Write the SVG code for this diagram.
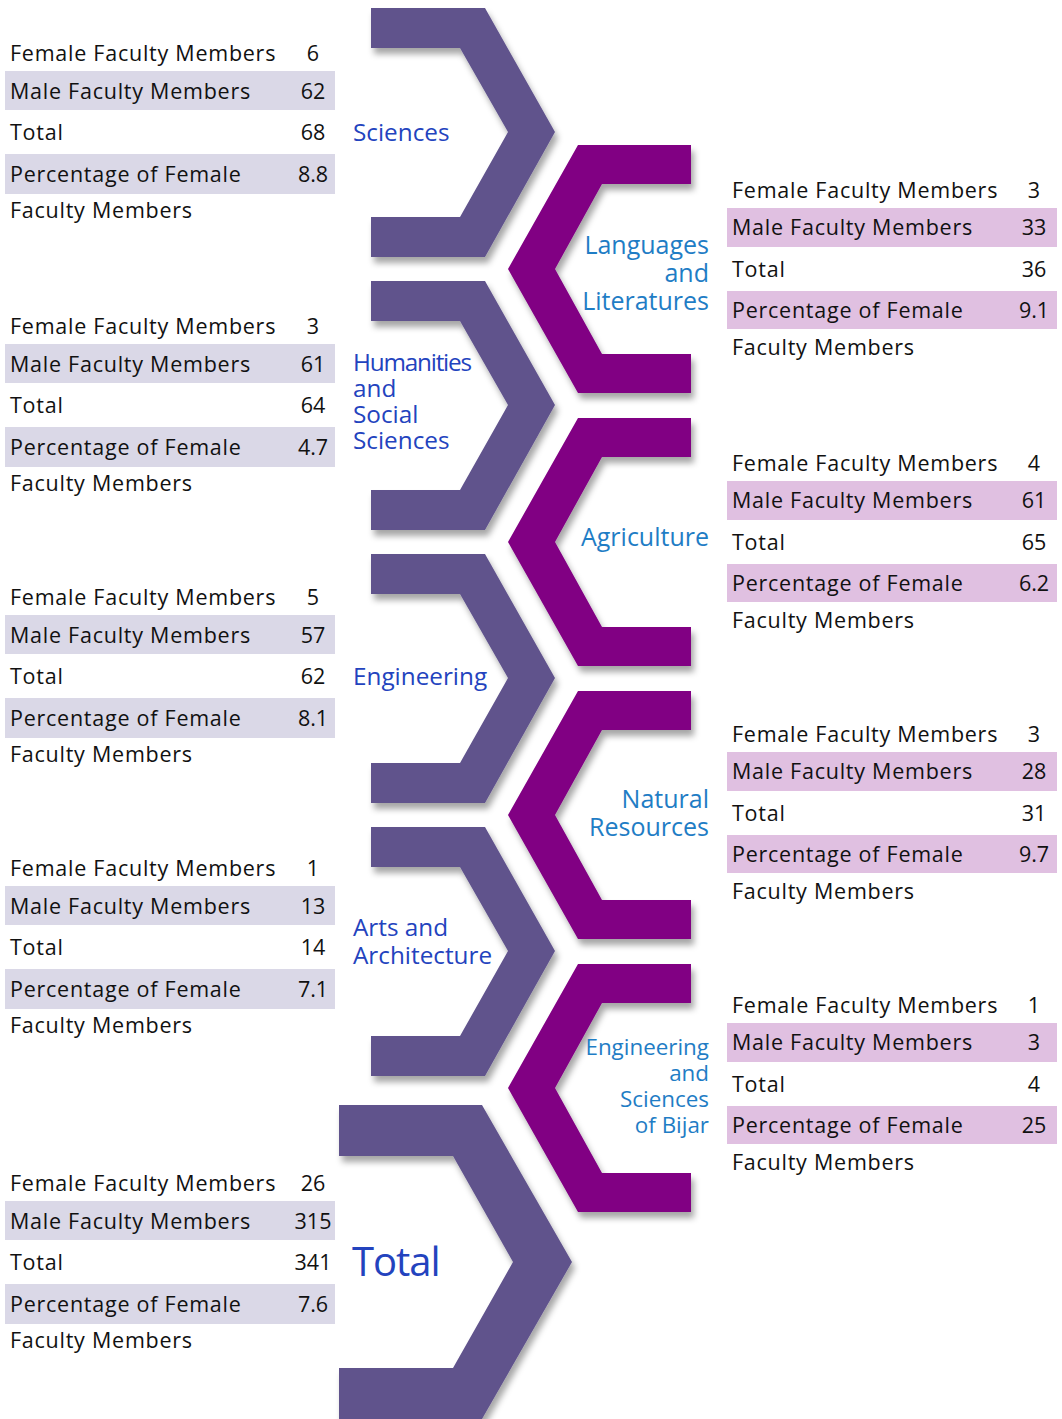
<svg xmlns="http://www.w3.org/2000/svg" width="1062" height="1419" viewBox="0 0 1062 1419">
<style>
.t{font-family:"Open Sans","Noto Sans",sans-serif;font-size:21.5px;letter-spacing:0.75px;fill:#111}
.n{font-family:"Open Sans","Noto Sans",sans-serif;font-size:21.5px;fill:#111;text-anchor:middle}
.ls{fill:#DAD8E7}
.rs{fill:#E0C0E1}
.lc{fill:#60538C;filter:url(#sh)}
.rc{fill:#810083;filter:url(#sh)}
.ll{font-family:"Open Sans","Noto Sans",sans-serif;font-size:24.3px;fill:#2343BE}
.rl{font-family:"Open Sans","Noto Sans",sans-serif;font-size:25px;fill:#1F7DC5;text-anchor:end}
.big{font-size:40px;letter-spacing:-1px}
.sm{font-size:22.4px}
.cond{letter-spacing:-1.2px}
</style>
<defs>
<filter id="sh" x="-10%" y="-10%" width="130%" height="130%">
<feDropShadow dx="3" dy="6" stdDeviation="3" flood-color="#000" flood-opacity="0.35"/>
</filter>
<polygon id="lchev" points="371,8 485,8 555,132 485,257 371,257 371,217 460,217 508,132 460,48 371,48"/>
<polygon id="rchev" points="691,145 578,145 508,269 578,393 691,393 691,354 602,354 555,269 602,184 691,184"/>
</defs>
<rect width="1062" height="1419" fill="#fff"/>

<!-- chevrons -->
<g id="chevron-sciences"><use href="#lchev" class="lc"/></g>
<g id="chevron-humanities"><use href="#lchev" class="lc" transform="translate(0,273)"/></g>
<g id="chevron-engineering"><use href="#lchev" class="lc" transform="translate(0,546)"/></g>
<g id="chevron-arts"><use href="#lchev" class="lc" transform="translate(0,819)"/></g>
<g id="chevron-total"><polygon class="lc" points="339,1105 482,1105 572,1262 482,1419 339,1419 339,1368 453,1368 513,1262 453,1156 339,1156"/></g>
<g id="chevron-languages"><use href="#rchev" class="rc"/></g>
<g id="chevron-agriculture"><use href="#rchev" class="rc" transform="translate(0,273)"/></g>
<g id="chevron-natural"><use href="#rchev" class="rc" transform="translate(0,546)"/></g>
<g id="chevron-bijar"><use href="#rchev" class="rc" transform="translate(0,819)"/></g>

<!-- labels -->
<g id="label-sciences"><text class="ll" x="353" y="141">Sciences</text></g>
<g id="label-humanities">
<text class="ll cond" x="353" y="371">Humanities</text>
<text class="ll" x="353" y="397">and</text>
<text class="ll" x="353" y="423">Social</text>
<text class="ll" x="353" y="449">Sciences</text>
</g>
<g id="label-engineering"><text class="ll" x="353" y="685">Engineering</text></g>
<g id="label-arts">
<text class="ll" x="353" y="936">Arts and</text>
<text class="ll" x="353" y="964">Architecture</text>
</g>
<g id="label-total"><text class="ll big" x="352" y="1276">Total</text></g>
<g id="label-languages">
<text class="rl" x="709" y="254">Languages</text>
<text class="rl" x="709" y="282">and</text>
<text class="rl" x="709" y="310">Literatures</text>
</g>
<g id="label-agriculture"><text class="rl" x="709" y="546">Agriculture</text></g>
<g id="label-natural">
<text class="rl" x="709" y="808">Natural</text>
<text class="rl" x="709" y="836">Resources</text>
</g>
<g id="label-bijar">
<text class="rl sm" x="709" y="1055">Engineering</text>
<text class="rl sm" x="709" y="1081">and</text>
<text class="rl sm" x="709" y="1107">Sciences</text>
<text class="rl sm" x="709" y="1133">of Bijar</text>
</g>

<!-- left tables -->
<g id="table-sciences">
<rect class="ls" x="5" y="71" width="330" height="39"/>
<rect class="ls" x="5" y="154" width="330" height="40"/>
<text class="t" x="10" y="60.5">Female Faculty Members</text><text class="n" x="313" y="60.5">6</text>
<text class="t" x="10" y="98.5">Male Faculty Members</text><text class="n" x="313" y="98.5">62</text>
<text class="t" x="10" y="139.5">Total</text><text class="n" x="313" y="139.5">68</text>
<text class="t" x="10" y="181.5">Percentage of Female</text><text class="n" x="313" y="181.5">8.8</text>
<text class="t" x="10" y="217.5">Faculty Members</text>
</g>
<g id="table-humanities" transform="translate(0,273)">
<rect class="ls" x="5" y="71" width="330" height="39"/>
<rect class="ls" x="5" y="154" width="330" height="40"/>
<text class="t" x="10" y="60.5">Female Faculty Members</text><text class="n" x="313" y="60.5">3</text>
<text class="t" x="10" y="98.5">Male Faculty Members</text><text class="n" x="313" y="98.5">61</text>
<text class="t" x="10" y="139.5">Total</text><text class="n" x="313" y="139.5">64</text>
<text class="t" x="10" y="181.5">Percentage of Female</text><text class="n" x="313" y="181.5">4.7</text>
<text class="t" x="10" y="217.5">Faculty Members</text>
</g>
<g id="table-engineering" transform="translate(0,544)">
<rect class="ls" x="5" y="71" width="330" height="39"/>
<rect class="ls" x="5" y="154" width="330" height="40"/>
<text class="t" x="10" y="60.5">Female Faculty Members</text><text class="n" x="313" y="60.5">5</text>
<text class="t" x="10" y="98.5">Male Faculty Members</text><text class="n" x="313" y="98.5">57</text>
<text class="t" x="10" y="139.5">Total</text><text class="n" x="313" y="139.5">62</text>
<text class="t" x="10" y="181.5">Percentage of Female</text><text class="n" x="313" y="181.5">8.1</text>
<text class="t" x="10" y="217.5">Faculty Members</text>
</g>
<g id="table-arts" transform="translate(0,815)">
<rect class="ls" x="5" y="71" width="330" height="39"/>
<rect class="ls" x="5" y="154" width="330" height="40"/>
<text class="t" x="10" y="60.5">Female Faculty Members</text><text class="n" x="313" y="60.5">1</text>
<text class="t" x="10" y="98.5">Male Faculty Members</text><text class="n" x="313" y="98.5">13</text>
<text class="t" x="10" y="139.5">Total</text><text class="n" x="313" y="139.5">14</text>
<text class="t" x="10" y="181.5">Percentage of Female</text><text class="n" x="313" y="181.5">7.1</text>
<text class="t" x="10" y="217.5">Faculty Members</text>
</g>
<g id="table-total" transform="translate(0,1130)">
<rect class="ls" x="5" y="71" width="330" height="39"/>
<rect class="ls" x="5" y="154" width="330" height="40"/>
<text class="t" x="10" y="60.5">Female Faculty Members</text><text class="n" x="313" y="60.5">26</text>
<text class="t" x="10" y="98.5">Male Faculty Members</text><text class="n" x="313" y="98.5">315</text>
<text class="t" x="10" y="139.5">Total</text><text class="n" x="313" y="139.5">341</text>
<text class="t" x="10" y="181.5">Percentage of Female</text><text class="n" x="313" y="181.5">7.6</text>
<text class="t" x="10" y="217.5">Faculty Members</text>
</g>

<!-- right tables -->
<g id="table-languages">
<rect class="rs" x="727" y="208" width="330" height="39"/>
<rect class="rs" x="727" y="291" width="330" height="38"/>
<text class="t" x="732" y="197.5">Female Faculty Members</text><text class="n" x="1034" y="197.5">3</text>
<text class="t" x="732" y="235">Male Faculty Members</text><text class="n" x="1034" y="235">33</text>
<text class="t" x="732" y="276.5">Total</text><text class="n" x="1034" y="276.5">36</text>
<text class="t" x="732" y="318">Percentage of Female</text><text class="n" x="1034" y="318">9.1</text>
<text class="t" x="732" y="354.5">Faculty Members</text>
</g>
<g id="table-agriculture" transform="translate(0,273)">
<rect class="rs" x="727" y="208" width="330" height="39"/>
<rect class="rs" x="727" y="291" width="330" height="38"/>
<text class="t" x="732" y="197.5">Female Faculty Members</text><text class="n" x="1034" y="197.5">4</text>
<text class="t" x="732" y="235">Male Faculty Members</text><text class="n" x="1034" y="235">61</text>
<text class="t" x="732" y="276.5">Total</text><text class="n" x="1034" y="276.5">65</text>
<text class="t" x="732" y="318">Percentage of Female</text><text class="n" x="1034" y="318">6.2</text>
<text class="t" x="732" y="354.5">Faculty Members</text>
</g>
<g id="table-natural" transform="translate(0,544)">
<rect class="rs" x="727" y="208" width="330" height="39"/>
<rect class="rs" x="727" y="291" width="330" height="38"/>
<text class="t" x="732" y="197.5">Female Faculty Members</text><text class="n" x="1034" y="197.5">3</text>
<text class="t" x="732" y="235">Male Faculty Members</text><text class="n" x="1034" y="235">28</text>
<text class="t" x="732" y="276.5">Total</text><text class="n" x="1034" y="276.5">31</text>
<text class="t" x="732" y="318">Percentage of Female</text><text class="n" x="1034" y="318">9.7</text>
<text class="t" x="732" y="354.5">Faculty Members</text>
</g>
<g id="table-bijar" transform="translate(0,815)">
<rect class="rs" x="727" y="208" width="330" height="39"/>
<rect class="rs" x="727" y="291" width="330" height="38"/>
<text class="t" x="732" y="197.5">Female Faculty Members</text><text class="n" x="1034" y="197.5">1</text>
<text class="t" x="732" y="235">Male Faculty Members</text><text class="n" x="1034" y="235">3</text>
<text class="t" x="732" y="276.5">Total</text><text class="n" x="1034" y="276.5">4</text>
<text class="t" x="732" y="318">Percentage of Female</text><text class="n" x="1034" y="318">25</text>
<text class="t" x="732" y="354.5">Faculty Members</text>
</g>
</svg>
